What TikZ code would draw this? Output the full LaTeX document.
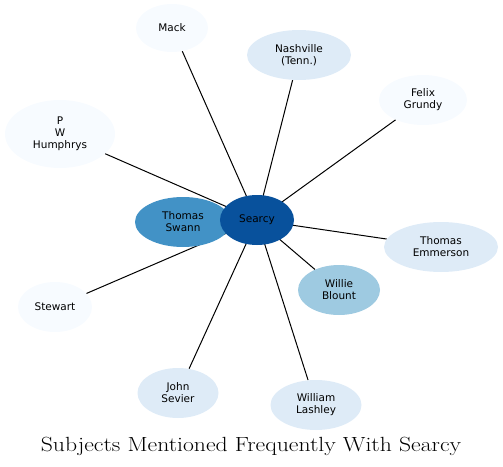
\documentclass[tikz,border=0pt]{standalone}
\usepackage{fontspec}
\setsansfont{DejaVu Sans}
\usetikzlibrary{shapes.geometric,backgrounds}
\definecolor{BlueA}{HTML}{F7FBFF}
\definecolor{BlueB}{HTML}{DEEBF7}
\definecolor{BlueC}{HTML}{9ECAE1}
\definecolor{BlueD}{HTML}{4292C6}
\definecolor{BlueE}{HTML}{08519C}
\tikzset{
  subject/.style={
    ellipse, inner sep=0pt, align=center,
    font=\sffamily\fontsize{10.5}{12}\selectfont
  },
  mention/.style={draw=black, line width=1pt}
}
\begin{document}
\begin{tikzpicture}[x=1pt,y=-1pt]
  \useasboundingbox (0,0) rectangle (503,466);
  % people and places around Searcy
  \node[subject,fill=BlueA,minimum width=72,minimum height=48] (mack) at (172,28) {Mack};
  \node[subject,fill=BlueB,minimum width=104,minimum height=50] (nashville) at (299,55) {Nashville\\(Tenn.)};
  \node[subject,fill=BlueA,minimum width=88,minimum height=50] (grundy) at (423,100) {Felix\\Grundy};
  \node[subject,fill=BlueA,minimum width=110,minimum height=68] (humphrys) at (60,134) {P\\W\\Humphrys};
  \node[subject,fill=BlueB,minimum width=114,minimum height=50] (emmerson) at (441,247) {Thomas\\Emmerson};
  \node[subject,fill=BlueC,minimum width=82,minimum height=50] (blount) at (339,290) {Willie\\Blount};
  \node[subject,fill=BlueA,minimum width=74,minimum height=50] (stewart) at (55,307) {Stewart};
  \node[subject,fill=BlueB,minimum width=81,minimum height=50] (sevier) at (178,393) {John\\Sevier};
  \node[subject,fill=BlueB,minimum width=91,minimum height=50] (lashley) at (316,405) {William\\Lashley};
  \node[subject,fill=BlueD,minimum width=96,minimum height=50] (swann) at (183,222) {Thomas\\Swann};
  \node[subject,fill=BlueE,minimum width=74,minimum height=50] (searcy) at (257,220) {Searcy};
  % connectors behind the ellipses
  \begin{scope}[on background layer]
    \foreach \other in {mack,nashville,grundy,humphrys,emmerson,blount,stewart,sevier,lashley,swann}
      \draw[mention] (searcy.center) -- (\other);
  \end{scope}
  \node[font=\fontsize{20.5}{24}\selectfont,anchor=base,xscale=1.155] (title) at (251,451) {Subjects Mentioned Frequently With Searcy};
\end{tikzpicture}
\end{document}
